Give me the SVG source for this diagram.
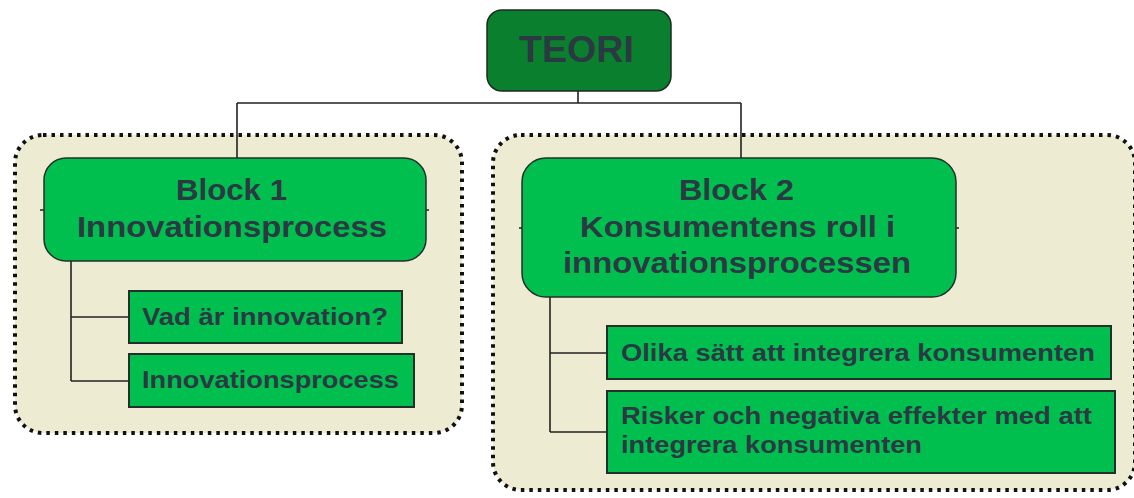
<svg xmlns="http://www.w3.org/2000/svg" width="1134" height="498" viewBox="0 0 1134 498">
  <style>
    .group { fill: #EEEBD3; stroke: #111; stroke-width: 4; stroke-dasharray: 3.5 5; }
    .root { fill: #0A802E; stroke: #1E2A22; stroke-width: 1.5; }
    .block { fill: #00BF4F; stroke: #22302A; stroke-width: 1.5; }
    .item { fill: #00BF4F; stroke: #22302A; stroke-width: 2; }
    .wire { fill: none; stroke: #222; stroke-width: 1.6; }
    text { font-family: "Liberation Sans", Arial, sans-serif; font-weight: bold; fill: #2B3942; }
    .big { font-size: 29px; }
    .small { font-size: 23px; }
  </style>

  <!-- dotted group backgrounds -->
  <rect class="group" x="15" y="135" width="447" height="298" rx="28"/>
  <rect class="group" x="493" y="135" width="642" height="355" rx="28"/>

  <!-- connectors -->
  <g id="connectors">
    <path class="wire" d="M578 91 V103 M237 103 H741 M237 103 V158 M741 103 V158"/>
    <path class="wire" d="M71 261 V381 M71 317 H129 M71 381 H129"/>
    <path class="wire" d="M550 297 V432 M550 353 H607 M550 432 H607"/>
    <path class="wire" d="M40 210 H44 M426 210 H429 M519 228 H522 M956 228 H959"/>
  </g>

  <g id="teori">
    <rect class="root" x="487" y="10" width="184" height="81" rx="15"/>
    <text x="519" y="62" font-size="37" textLength="115" lengthAdjust="spacingAndGlyphs">TEORI</text>
  </g>

  <g id="block1">
    <rect class="block" x="44" y="158" width="382" height="103" rx="22"/>
    <text class="big" x="176" y="200" textLength="111" lengthAdjust="spacingAndGlyphs">Block 1</text>
    <text class="big" x="77" y="237" textLength="310" lengthAdjust="spacingAndGlyphs">Innovationsprocess</text>
  </g>

  <g id="vad-ar-innovation">
    <rect class="item" x="129" y="291" width="273" height="52"/>
    <text class="small" x="142" y="325" textLength="246" lengthAdjust="spacingAndGlyphs">Vad är innovation?</text>
  </g>

  <g id="innovationsprocess">
    <rect class="item" x="129" y="354" width="285" height="53"/>
    <text class="small" x="142" y="388" textLength="257" lengthAdjust="spacingAndGlyphs">Innovationsprocess</text>
  </g>

  <g id="block2">
    <rect class="block" x="522" y="158" width="434" height="139" rx="24"/>
    <text class="big" x="679" y="200" textLength="115" lengthAdjust="spacingAndGlyphs">Block 2</text>
    <text class="big" x="580" y="237" textLength="315" lengthAdjust="spacingAndGlyphs">Konsumentens roll i</text>
    <text class="big" x="563" y="273" textLength="348" lengthAdjust="spacingAndGlyphs">innovationsprocessen</text>
  </g>

  <g id="olika-satt">
    <rect class="item" x="607" y="326" width="504" height="53"/>
    <text class="small" x="621" y="361" textLength="474" lengthAdjust="spacingAndGlyphs">Olika sätt att integrera konsumenten</text>
  </g>

  <g id="risker">
    <rect class="item" x="607" y="391" width="508" height="82"/>
    <text class="small" x="621" y="424" textLength="471" lengthAdjust="spacingAndGlyphs">Risker och negativa effekter med att</text>
    <text class="small" x="621" y="453" textLength="301" lengthAdjust="spacingAndGlyphs">integrera konsumenten</text>
  </g>
</svg>
